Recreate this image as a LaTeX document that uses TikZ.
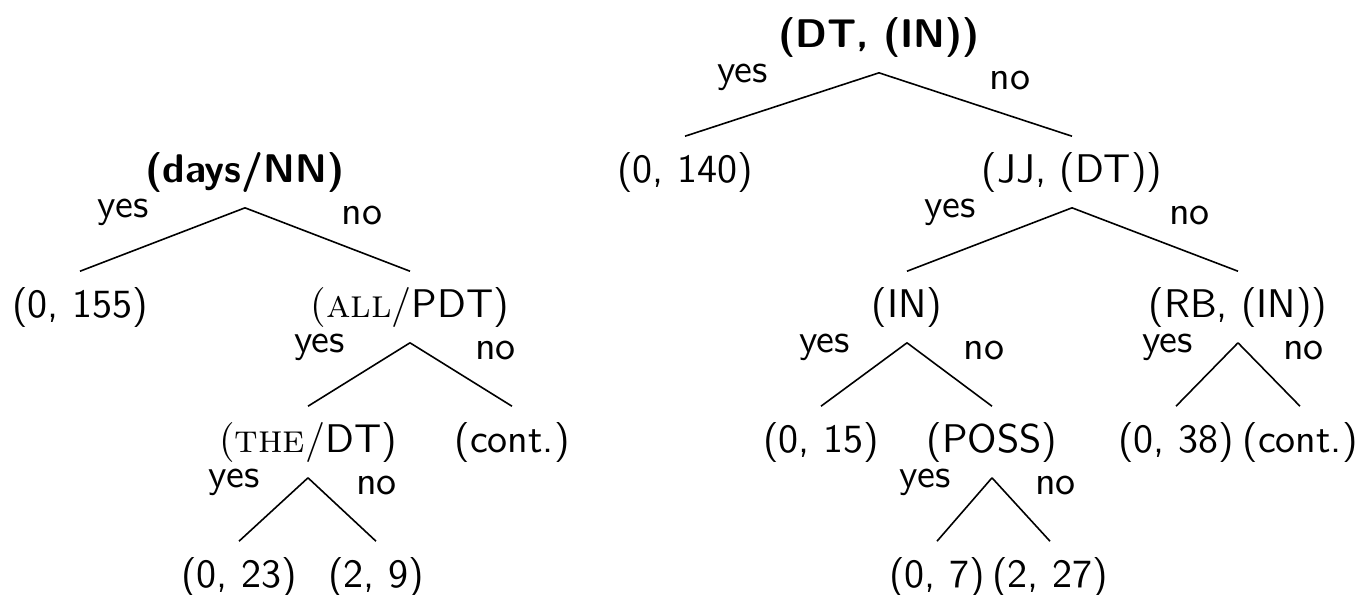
\documentclass[tikz,border=0pt]{standalone}
\begin{document}
\begin{tikzpicture}[x=0.25pt,y=-0.25pt,font=\sffamily,
    tn/.style={inner sep=3.75pt},
    rootn/.style={tn,font=\sffamily\bfseries},
    yeslbl/.style={above left},
    nolbl/.style={above right}]
    \useasboundingbox (0,0) rectangle (1362,594);

    % first tree
    \node[rootn] (days) at (245,172) {(days/NN)};
    \node[tn] (l155) at (80,307) {(0, 155)};
    \node[tn] (all) at (410,307) {{\rmfamily(\textsc{all}/}PDT)};
    \node[tn] (the) at (308,442) {{\rmfamily(\textsc{the}/}DT)};
    \node[tn] (lcont) at (512,442) {(cont.)};
    \node[tn] (l23) at (239,577) {(0, 23)};
    \node[tn] (l9) at (376,577) {(2, 9)};

    \draw (days.south) -- node[yeslbl] (daysy) {yes} (l155.north);
    \draw (days.south) -- node[nolbl] (daysn) {no} (all.north);
    \draw (all.south) -- node[yeslbl] (ally) {yes} (the.north);
    \draw (all.south) -- node[nolbl] (alln) {no} (lcont.north);
    \draw (the.south) -- node[yeslbl] (they) {yes} (l23.north);
    \draw (the.south) -- node[nolbl] (then) {no} (l9.north);

    % second tree
    \node[rootn] (dtin) at (879,37) {(DT, (IN))};
    \node[tn] (r140) at (685,172) {(0, 140)};
    \node[tn] (jj) at (1072,172) {(JJ, (DT))};
    \node[tn] (in) at (907,307) {(IN)};
    \node[tn] (rb) at (1238,307) {(RB, (IN))};
    \node[tn] (r15) at (821,442) {(0, 15)};
    \node[tn] (poss) at (992,442) {(POSS)};
    \node[tn] (r38) at (1176,442) {(0, 38)};
    \node[tn] (rcont) at (1300,442) {(cont.)};
    \node[tn] (r7) at (937,577) {(0, 7)};
    \node[tn] (r27) at (1050,577) {(2, 27)};

    \draw (dtin.south) -- node[yeslbl] (dtiny) {yes} (r140.north);
    \draw (dtin.south) -- node[nolbl] (dtinn) {no} (jj.north);
    \draw (jj.south) -- node[yeslbl] (jjy) {yes} (in.north);
    \draw (jj.south) -- node[nolbl] (jjn) {no} (rb.north);
    \draw (in.south) -- node[yeslbl] (iny) {yes} (r15.north);
    \draw (in.south) -- node[nolbl] (inn) {no} (poss.north);
    \draw (rb.south) -- node[yeslbl] (rby) {yes} (r38.north);
    \draw (rb.south) -- node[nolbl] (rbn) {no} (rcont.north);
    \draw (poss.south) -- node[yeslbl] (possy) {yes} (r7.north);
    \draw (poss.south) -- node[nolbl] (possn) {no} (r27.north);
\end{tikzpicture}
\end{document}
